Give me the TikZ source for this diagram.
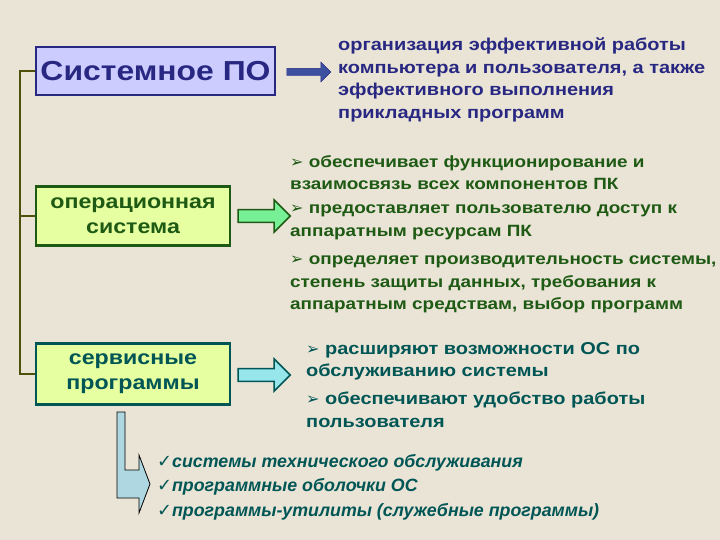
\documentclass[tikz,border=0pt]{standalone}
\usepackage{fontspec}
\setmainfont{Liberation Sans}
\newfontfamily\wide[FakeStretch=1.16]{Liberation Sans}
\newfontfamily\dv{DejaVu Sans}
\usetikzlibrary{shapes.arrows}
\definecolor{bg}{RGB}{234,228,214}
\definecolor{dblue}{RGB}{40,40,130}
\definecolor{lblue}{RGB}{204,204,255}
\definecolor{dgreen}{RGB}{30,90,20}
\definecolor{lgreen}{RGB}{230,255,160}
\definecolor{mgreen}{RGB}{120,240,150}
\definecolor{teal2}{RGB}{0,85,85}
\definecolor{lcyan}{RGB}{150,230,235}
\definecolor{olive2}{RGB}{80,80,10}
\definecolor{arrblue}{RGB}{60,80,160}
\definecolor{bent}{RGB}{175,215,225}
\newcommand{\bul}{{\dv\fontsize{16}{16}\selectfont\char"27A2}\ }
\newcommand{\chk}{{\dv\char"2713}}
\tikzset{
  box/.style={draw, line width=2.2pt, align=center, font=\wide\bfseries\fontsize{20}{25}\selectfont, inner sep=2pt},
  txt/.style={anchor=north west, align=left, font=\wide\bfseries\fontsize{17.2}{22.5}\selectfont, inner sep=0pt},
  arr/.style={single arrow, draw, line width=1.5pt, minimum height=52pt, minimum width=32pt, single arrow head extend=7pt, inner sep=4pt}
}
\begin{document}
\begin{tikzpicture}[x=1pt,y=-1pt]
\fill[bg] (0,0) rectangle (720,540);
\useasboundingbox (0,0) rectangle (720,540);
\node[box, fill=lblue, draw=dblue, text=dblue, minimum width=239pt, minimum height=48pt, font=\wide\bfseries\fontsize{27.5}{29}\selectfont] (sys) at (155.5,71) {Системное ПО};
\node[box, fill=lgreen, draw=dgreen, text=dgreen, minimum width=194pt, minimum height=59pt] (os) at (133,216) {операционная\\система};
\node[box, fill=lgreen, draw=teal2, text=teal2, minimum width=194pt, minimum height=61pt] (srv) at (133,374) {сервисные\\программы};
\coordinate (t1) at (20,71); \coordinate (t3) at (20,374);
\draw[olive2, line width=2.5pt] (sys.west) -- (t1) -- (t3) -- (srv.west);
\draw[olive2, line width=2.5pt] (t1 |- os.west) -- (os.west);
\node[single arrow, fill=arrblue, draw=dblue, minimum height=44pt, minimum width=20pt, single arrow head extend=4pt, inner sep=2pt] (a1) at (307,72) {};
\node[arr, fill=mgreen, draw=dgreen] (a2) at (261,216) {};
\node[arr, fill=lcyan, draw=teal2] (a3) at (261,375) {};
\node[txt, text=dblue] (t1x) at (338,38) {организация эффективной работы\\компьютера и пользователя, а также\\эффективного выполнения\\прикладных программ};
\node[txt, text=dgreen, font=\wide\bfseries\fontsize{16.3}{22.5}\selectfont] (o1) at (290,155) {\bul обеспечивает функционирование и\\взаимосвязь всех компонентов ПК};
\node[txt, text=dgreen, font=\wide\bfseries\fontsize{16.3}{22.5}\selectfont] (o2) at (290,205) {\bul предоставляет пользователю доступ к\\аппаратным ресурсам ПК};
\node[txt, text=dgreen, font=\wide\bfseries\fontsize{16.3}{22.5}\selectfont] (o3) at (290,256) {\bul определяет производительность системы,\\степень защиты данных, требования к\\аппаратным средствам, выбор программ};
\node[txt, text=teal2] (s1) at (306,342) {\bul расширяют возможности ОС по\\обслуживанию системы};
\node[txt, text=teal2] (s2) at (306,392) {\bul обеспечивают удобство работы\\пользователя};
\draw[fill=bent, draw=black, line width=0.8pt] (117,412) -- (125,412) -- (125,470) -- (139,470) -- (139,455) -- (150,484) -- (139,513) -- (139,498) -- (117,498) -- cycle;
\node[txt, text=teal2, font=\bfseries\itshape\fontsize{17.8}{24.5}\selectfont] (lst) at (157,454) {\chk системы технического обслуживания\\\chk программные оболочки ОС\\\chk программы-утилиты (служебные программы)};
\end{tikzpicture}
\end{document}
